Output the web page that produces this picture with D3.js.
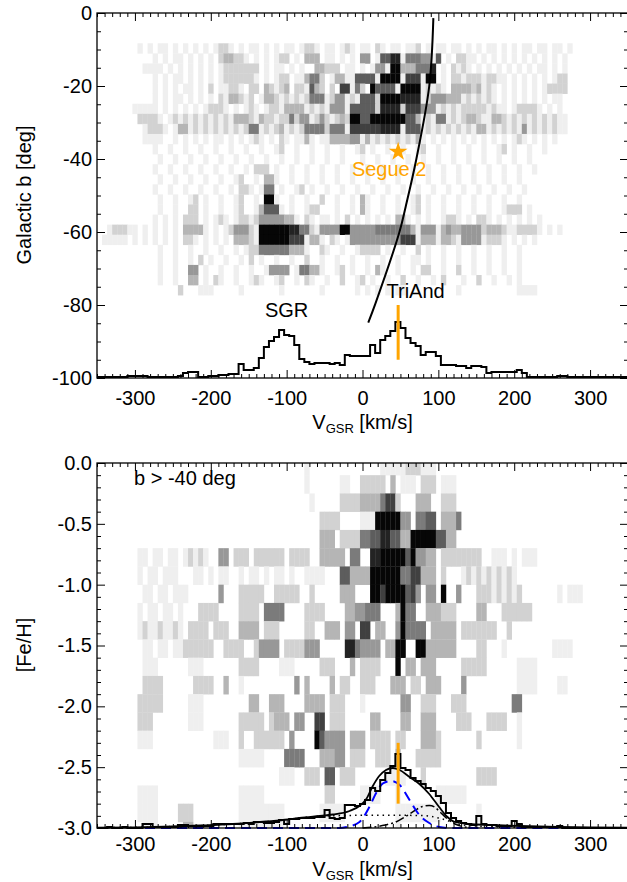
<!DOCTYPE html>
<html lang="en">
<head>
<meta charset="utf-8">
<script src="https://d3js.org/d3.v7.min.js"></script>
<style>
  body { margin: 0; background: #fff; }
  text { font-family: "Liberation Sans", Arial, sans-serif; fill: #000; }
</style>
</head>
<body>
<script>
// ---- data ----
var binStart = -350, binWidth = 20 / 3;     // velocity bins (km/s)

// top histogram (stars per bin, arbitrary units)
var histTop = [1,1,1,1,1,1,2,2,2, 2,1,1,1,1,1,1, 2,5,6,6,1,1,2,2,3,3,4,4,
  14,8,8,10,20,31,37,41,48,43,42,33,19,16,14,15,15,15,14,15,13,
  23,22,22,22,22,33,25,38,42,47,56,50,40,35,32,23,26,26,22,13,13,13,12,12,10,12,12,11,
  5,6,6,6,6,6,8,5,1,1,1,1,1,1,2,2,1,1,1,1,1,1,1,1,1,1,1,1];

// bottom histogram
var histBot = [0,0,1,0,0,1,0,0,0, 4,4, 1,1,1,1,1, 3,3, 2,2,2,2,2, 4, 4,4,4,4,4,5,4,
  6,6, 5,5,6, 8,4, 9,9,10, 10,10,11, 11,18, 10,9,10, 23,23,22,24,28,40,37,48,55,62,74,
  60,58,50,47,44,40,37,32,25,15,10,7,5,4,3,12,4,3,3,2,2,2,7,4,1,1,1,1,1,1,1,2,
  0,0,0,0,0,0,0,0,0,0,0,0];

// fit components for b > -40 (velocity, height)
var fitTotal = [[-350,0.3],[-300,0.6],[-250,1.5],[-214,2.5],[-171,4],[-127,6.5],[-98,8.5],[-83,10],[-50,12.5],
  [-39,13.5],[-17,17],[-4,22],[5,29],[13.6,42],[22,52],[31,58],[40,60],[49,58],[62,51],[75,44],[88,34],
  [101,21],[112,11],[122,6],[140,4],[170,3],[207,2],[258,1],[300,0.5],[350,0.3]];
var fitHalo = [[-350,0.3],[-300,0.6],[-250,1.5],[-214,2.5],[-171,4],[-127,6.5],[-98,8.5],[-83,10],[-50,12],
  [-20,12.5],[0,12.7],[40,12.7],[80,12.5],[100,10],[112,7.5],[125,4],[140,2.5],[170,1.5],[207,1],[258,0.5],[350,0.2]];
var fitTriAnd = [[-350,0],[-200,0],[-60,0],[-30,0],[-21,1],[-4,6],[9,21],[18,35],[27,44.7],[38,47],[49,43],
  [62,28],[75,13],[88,5],[101,1],[115,0],[200,0],[350,0]];
var fitSecond = [[0,0],[15,1],[30,3],[44,6],[60,13],[70,18],[79,21.5],[88,22.5],[95,21],[101,17],[112,9],
  [122,4],[135,1],[150,0]];

// orbit track (velocity, latitude)
var trackV = [93.4, 88, 71, 57, 48.7, 17, 7.6];
var trackB = [-1.4, -20, -40, -53, -60, -79.6, -84.8];

var segueV = 47, segueB = -38;

// density maps: rows of shade levels 0-9, one char per velocity bin
var mapTopEdge = -8.3, mapTopStep = 2.76;
var mapTop = [
"00000 00010 10110 10101 01012 21010 11010 10110 12210 11012 10110 21011 01120 10110 11010 10110 10101 10110 11010 00000 00000",
"00000 00000 01010 11010 10102 33221 01010 12201 03330 11010 10440 16688 15554 41601 02211 01010 10101 01010 10100 00000 00000",
"00000 00001 11101 01010 10101 22222 22010 11010 10033 22201 10101 44199 33355 58010 21210 10101 01010 10110 10100 00000 00000",
"00000 00000 01010 11010 10101 22222 21010 12201 13552 01331 16666 19999 17771 99010 22122 21221 10101 01010 12200 00000 00000",
"00000 00000 01010 10110 10201 12210 22032 12302 21632 02077 15209 66661 99991 21210 33332 31210 10101 01012 22200 00000 00000",
"00000 00000 01010 11010 10102 13321 20133 21212 12555 12441 21666 29999 88881 24443 33121 21210 10101 01010 11000 00000 00000",
"00000 00111 11010 10101 01222 10101 21012 21333 31212 14441 66666 28888 27774 44121 21222 22121 10122 22101 01000 00000 00000",
"00000 00022 22101 21212 12121 21333 21322 12252 44124 21232 99669 99999 96631 21551 21233 21133 21212 12121 21100 00000 00000",
"00000 00001 22210 13312 12121 21212 55121 23121 25555 25551 77777 78888 16661 21212 12121 33121 21214 12121 21100 00000 00000",
"00000 00001 11100 10101 01011 01010 12101 02101 13101 13333 44131 21212 12131 01010 10101 01010 10121 01010 10000 00000 00000",
"00000 00000 01001 00100 10010 01001 00100 12001 00100 10010 01201 00100 10012 00100 10010 01001 20100 10010 00000 00000 00000",
"00000 00000 00100 10010 01001 00100 10010 01001 00100 10010 00100 10010 01001 00100 10010 01001 00100 10000 00000 00000 00000",
"00000 00000 01001 00100 10010 01001 02220 10010 01001 00100 10010 01001 00100 10010 01001 00100 10010 01000 00000 00000 00000",
"00000 00000 00100 10010 01001 00120 01033 10010 01001 00100 10010 01001 00100 10010 01001 00100 10010 00000 00000 00000 00000",
"00000 00000 01001 00100 10010 01022 10155 01001 20100 10010 01001 00100 10010 01001 00100 10010 01001 00000 00000 00000 00000",
"00000 00000 00100 10012 01001 00120 01099 10010 01002 00100 10310 01001 00120 10010 01001 00100 10010 00000 00000 00000 00000",
"00000 00000 00100 10022 01001 00120 01366 61010 01220 00100 10310 01001 00120 10010 01001 00100 12220 10000 00000 00000 00000",
"00000 00000 01010 10222 01012 10122 12444 44331 02101 10102 01010 10103 31010 10012 21010 22101 01010 10100 00000 00000 00000",
"00122 21101 01010 10333 31010 12444 21999 99988 55214 44499 44444 55555 55314 44134 33444 42333 21122 22101 01000 00000 00000",
"01111 10101 01010 10221 01010 10333 21999 99977 71331 02101 44444 44444 77713 33133 21444 41222 10101 01000 00000 00000 00000",
"00000 00000 00100 10010 01001 00101 22555 55533 31002 10010 01222 20100 10020 10010 01001 00100 10010 00000 00000 00000 00000",
"00000 00000 00100 10010 20100 10010 20100 10010 02001 00100 10010 01001 00110 10010 01001 00100 10010 00000 00000 00000 00000",
"00000 00000 00100 10044 01001 00100 10014 44401 55331 00120 10010 31001 00102 20010 02001 00100 10010 00000 00000 00000 00000",
"00000 00000 00100 10033 01021 00100 12100 12001 02100 10020 01201 00100 20010 01020 00100 20010 01010 00000 00000 00000 00000",
"00000 00000 00000 02000 11100 00010 00000 01000 00001 00000 01010 10101 10000 00000 01000 00000 00011 11000 00000 00000 00000"
];

var mapBotEdge = 0.05, mapBotStep = 0.15;
var mapBot = [
"00000 00000 00000 00000 00000 00000 00000 00000 01000 00000 00000 01111 12221 11000 00000 00000 00000 00000 00000 00000 00000",
"00000 00000 00000 00000 00000 00000 00000 00000 01000 00011 00222 22030 11102 22011 10000 00000 00000 00000 00000 00000 00000",
"00000 00000 00000 00000 00000 00000 00000 00000 00100 00022 22333 35772 00033 30022 20000 00000 00000 00000 00000 00000 00000",
"00000 00000 00000 00000 00000 00000 00000 00000 00002 22200 00111 99999 44055 66033 35000 00000 00000 00000 00000 00000 00000",
"00000 00000 00000 00000 00000 00000 00000 00000 00003 33022 22556 68866 33999 99663 30000 00000 00000 00000 00000 00000 00000",
"00000 00011 01101 10121 21004 40222 02222 22022 22003 33330 55008 89999 96944 33022 22222 20011 10101 11000 00000 00000 00000",
"00000 00010 11011 10001 10101 10010 11010 11010 01111 00066 33339 99999 55773 33020 00121 21212 12100 00000 00000 00000 00000",
"00000 00001 10110 11100 00004 00022 22200 22222 00200 00033 30009 97999 96740 44090 04000 22212 12120 00000 01011 10000 00000",
"00000 00010 11011 01000 22220 00022 22055 55000 02222 00003 34455 50003 95500 33322 20000 33000 22222 20000 00000 00000 00000",
"00000 00012 11211 21022 22022 20033 33022 20000 02200 33304 40770 33004 95555 03333 30222 22220 02000 00000 00000 00000 00000",
"00000 00001 10110 11222 22200 22220 02444 40222 24440 00008 85444 40339 90099 33333 30000 22000 10000 00000 11110 00000 00000",
"00000 00001 11000 00011 10000 00022 22000 01110 00002 22000 30222 20009 03303 33000 00222 22000 00011 11000 00000 00000 00000",
"00000 00002 22200 00002 22200 30010 00000 00004 03000 03022 00222 00033 30220 33300 00400 00000 00011 11000 01100 00000 00000",
"00000 00022 22200 00011 10000 00000 33003 33000 03333 02220 00100 00000 44002 22000 22200 00000 00550 00000 00000 00000 00000",
"00000 00022 20000 00011 10000 00022 22202 33304 40077 02220 00003 30000 33003 33000 02220 00222 20010 00000 00000 00000 00000",
"00000 00011 10000 00000 00011 10020 02222 22040 00096 44440 33302 22202 20003 33200 00000 20000 00010 00000 00000 00000 00000",
"00000 00000 00000 00000 00000 00011 11100 00555 50003 33440 22200 22203 00022 22200 00000 00000 00000 00000 00000 00000 00000",
"00000 00000 00000 00000 00000 00000 00000 01110 02220 66022 20000 00111 10002 00000 00000 22220 00000 00000 00000 00000 00000",
"00000 00011 11000 00000 00000 00011 11100 00000 00000 22000 00111 10001 00000 00111 11100 00000 00000 00000 00000 00000 00000",
"00000 00011 11000 02220 00000 00011 11111 11000 00001 11110 00000 00001 11111 11100 00000 10000 00000 00000 00000 00000 00000",
"00000 00001 11000 00330 00000 00011 11111 11000 00000 00000 00000 00001 00000 00000 00000 00000 00000 00000 00000 00000 00000"
];

var vTicks = [-300, -200, -100, 0, 100, 200, 300];
var bTicks = [0, -20, -40, -60, -80, -100];
var fehTicks = [0, -0.5, -1, -1.5, -2, -2.5, -3];

// ---- drawing ----
var W = 627, H = 882;
var svg = d3.select("body").append("svg").attr("width", W).attr("height", H);

var x = d3.scaleLinear().domain([-350, 350]).range([97, 628]);
var yTop = d3.scaleLinear().domain([-100, 0]).range([378, 13]);
var yBot = d3.scaleLinear().domain([-3, 0]).range([828, 463]);
var hTop = d3.scaleLinear().domain([0, 100]).range([378, 278]);
var hBot = d3.scaleLinear().domain([0, 100]).range([828, 728]);
var shade = d3.scaleLinear().domain([0, 1, 9]).range(["#ffffff", "#efefef", "#060606"]);

function drawMap(rows, y, edge, step) {
  var lo = y.domain()[0], hi = y.domain()[1];
  var cells = [];
  rows.forEach(function (s, r) {
    s.replace(/ /g, "").split("").forEach(function (ch, c) {
      var v = +ch;
      if (v > 0) cells.push({ r: r, c: c, v: v });
    });
  });
  svg.append("g").selectAll("rect").data(cells).enter().append("rect")
    .attr("x", function (d) { return x(binStart + d.c * binWidth); })
    .attr("width", x(binWidth) - x(0) + 0.3)
    .attr("y", function (d) { return y(Math.min(edge - d.r * step, hi)); })
    .attr("height", function (d) {
      var t = Math.min(edge - d.r * step, hi), b = Math.max(edge - (d.r + 1) * step, lo);
      return y(b) - y(t) + 0.3;
    })
    .attr("fill", function (d) { return shade(d.v); });
}

function drawHist(counts, h) {
  var pts = counts.map(function (n, k) { return [binStart + k * binWidth, n]; });
  pts.push([binStart + counts.length * binWidth, counts[counts.length - 1]]);
  svg.append("path").datum(pts)
    .attr("d", d3.line().x(function (d) { return x(d[0]); }).y(function (d) { return h(d[1]); }).curve(d3.curveStepAfter))
    .attr("fill", "none").attr("stroke", "#000").attr("stroke-width", 2);
}

function drawFit(pts, h, color, dash, w) {
  svg.append("path").datum(pts)
    .attr("d", d3.line().x(function (d) { return x(d[0]); }).y(function (d) { return h(d[1]); }).curve(d3.curveMonotoneX))
    .attr("fill", "none").attr("stroke", color).attr("stroke-width", w)
    .attr("stroke-dasharray", dash);
}

function drawFrame(y, yMajor, yMinorStep, fmt, pad) {
  var y0 = y.range()[0], y1 = y.range()[1];
  var x0 = x.range()[0], x1 = x.range()[1];
  var vMinor = d3.range(-350, 351, 10).filter(function (v) { return v % 100 !== 0; });
  var yd = y.domain();
  var yMinor = d3.range(Math.round(yd[0] / yMinorStep), Math.round(yd[1] / yMinorStep) + 1)
    .map(function (i) { return i * yMinorStep; })
    .filter(function (v) { return yMajor.every(function (m) { return Math.abs(m - v) > 1e-6; }); });

  function ticks(axis) { return function (g) { g.call(axis); g.select(".domain").remove(); }; }

  svg.append("g").attr("transform", "translate(0," + y0 + ")")
    .call(ticks(d3.axisBottom(x).tickValues(vMinor).tickSize(-4).tickFormat("")));
  svg.append("g").attr("transform", "translate(0," + y0 + ")")
    .call(ticks(d3.axisBottom(x).tickValues(vTicks).tickSize(-8).tickPadding(pad).tickFormat(String)))
    .selectAll("text").attr("font-size", 20);
  svg.append("g").attr("transform", "translate(0," + y1 + ")")
    .call(ticks(d3.axisTop(x).tickValues(vMinor).tickSize(-4).tickFormat("")));
  svg.append("g").attr("transform", "translate(0," + y1 + ")")
    .call(ticks(d3.axisTop(x).tickValues(vTicks).tickSize(-8).tickFormat("")));

  svg.append("g").attr("transform", "translate(" + x0 + ",0)")
    .call(ticks(d3.axisLeft(y).tickValues(yMinor).tickSize(-4).tickFormat("")));
  svg.append("g").attr("transform", "translate(" + x0 + ",0)")
    .call(ticks(d3.axisLeft(y).tickValues(yMajor).tickSize(-8).tickPadding(5).tickFormat(fmt)))
    .selectAll("text").attr("font-size", 20);
  svg.append("g").attr("transform", "translate(" + x1 + ",0)")
    .call(ticks(d3.axisRight(y).tickValues(yMinor).tickSize(-4).tickFormat("")));
  svg.append("g").attr("transform", "translate(" + x1 + ",0)")
    .call(ticks(d3.axisRight(y).tickValues(yMajor).tickSize(-8).tickFormat("")));

  svg.selectAll(".tick line").attr("stroke", "#000").attr("stroke-width", 1);
  svg.append("rect").attr("x", x0).attr("y", y1).attr("width", x1 - x0).attr("height", y0 - y1)
    .attr("fill", "none").attr("stroke", "#000").attr("stroke-width", 1.3);
}

function xTitle(yBase) {
  var t = svg.append("text").attr("x", x(0)).attr("y", yBase).attr("text-anchor", "middle").attr("font-size", 20);
  t.append("tspan").text("V");
  t.append("tspan").attr("font-size", 13).attr("dy", 4).text("GSR");
  t.append("tspan").attr("dy", -4).text(" [km/s]");
}

function yTitle(label, cy) {
  svg.append("text").attr("transform", "translate(31," + cy + ") rotate(-90)")
    .attr("text-anchor", "middle").attr("font-size", 20).text(label);
}

// top panel
drawMap(mapTop, yTop, mapTopEdge, mapTopStep);
drawHist(histTop, hTop);
svg.append("path").datum(d3.zip(trackV, trackB))
  .attr("d", d3.line().x(function (d) { return x(d[0]); }).y(function (d) { return yTop(d[1]); }).curve(d3.curveCatmullRom))
  .attr("fill", "none").attr("stroke", "#000").attr("stroke-width", 2);
svg.append("line").attr("x1", x(segueV)).attr("x2", x(segueV)).attr("y1", yTop(-80)).attr("y2", yTop(-95))
  .attr("stroke", "#ffa500").attr("stroke-width", 3);
svg.append("path").attr("d", d3.symbol().type(d3.symbolStar).size(110)())
  .attr("transform", "translate(" + x(segueV) + "," + yTop(segueB) + ")").attr("fill", "#ffa500");
svg.append("text").attr("x", x(segueV) - 9).attr("y", 175.5).attr("text-anchor", "middle")
  .attr("font-size", 20).style("fill", "#ffa500").text("Segue 2");
svg.append("text").attr("x", x(-100)).attr("y", 316.5).attr("text-anchor", "middle").attr("font-size", 20).text("SGR");
svg.append("text").attr("x", x(70)).attr("y", 298).attr("text-anchor", "middle").attr("font-size", 20).text("TriAnd");
drawFrame(yTop, bTicks, 5, String, 13);
xTitle(429);
yTitle("Galactic b [deg]", 195);

// bottom panel
drawMap(mapBot, yBot, mapBotEdge, mapBotStep);
drawFit(fitHalo, hBot, "#000", "1.5,4", 1.5);
drawFit(fitSecond, hBot, "#000", "9,3,2,3", 1.5);
drawFit(fitTriAnd, hBot, "#0000ff", "10,6", 2);
drawHist(histBot, hBot);
drawFit(fitTotal, hBot, "#000", null, 1.8);
svg.append("line").attr("x1", x(segueV)).attr("x2", x(segueV)).attr("y1", yBot(-2.3)).attr("y2", yBot(-2.8))
  .attr("stroke", "#ffa500").attr("stroke-width", 3);
svg.append("text").attr("x", 134).attr("y", 485).attr("font-size", 20).text("b > -40 deg");
drawFrame(yBot, fehTicks, 0.1, function (d) { return d.toFixed(1); }, 9);
xTitle(876);
yTitle("[Fe/H]", 645);
</script>
</body>
</html>
